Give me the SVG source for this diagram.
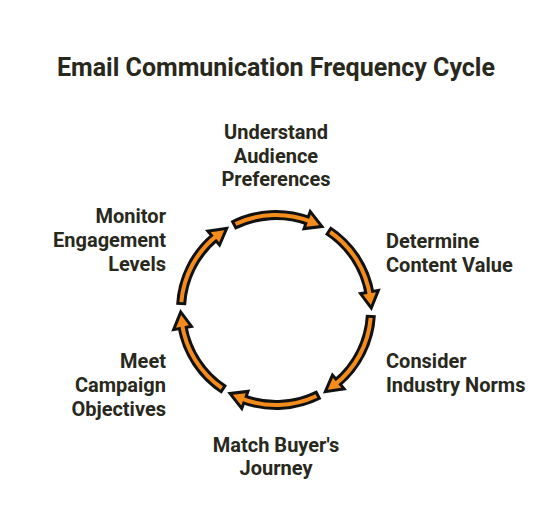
<svg xmlns="http://www.w3.org/2000/svg" xmlns:xlink="http://www.w3.org/1999/xlink" width="552" height="528" viewBox="0 0 552 528">
<style>
.t{font-family:Roboto,"Liberation Sans",sans-serif;font-weight:700;fill:#28281c}
.title{font-size:25px}
.lbl{font-size:20px}
.ob{fill:none;stroke:#111;stroke-width:10}
.oo{fill:none;stroke:#F48C1C;stroke-width:4}
.hb{fill:#111;stroke:#111;stroke-width:6;stroke-linejoin:miter}
.ho{fill:#F48C1C}
</style>
<defs>
<g id="arr">
<path class="ob" d="M -43.13 -84.65 A 95 95 0 0 1 32.49 -89.27"/>
<polygon class="hb" points="34.71,-95.38 43.13,-84.65 30.27,-83.16"/>
<path class="oo" d="M -40.45 -85.96 A 95 95 0 0 1 35.59 -88.08"/>
<polygon class="ho" points="34.71,-95.38 43.13,-84.65 30.27,-83.16"/>
</g>
</defs>
<rect width="552" height="528" fill="#fff"/>
<text class="t title" x="276" y="76" text-anchor="middle">Email Communication Frequency Cycle</text>
<g id="connectors">
<use xlink:href="#arr" transform="translate(276,310) rotate(0)"/>
<use xlink:href="#arr" transform="translate(276,310) rotate(60)"/>
<use xlink:href="#arr" transform="translate(276,310) rotate(120)"/>
<use xlink:href="#arr" transform="translate(276,310) rotate(180)"/>
<use xlink:href="#arr" transform="translate(276,310) rotate(240)"/>
<use xlink:href="#arr" transform="translate(276,310) rotate(300)"/>
</g>
<g id="node-understand">
<text class="t lbl" text-anchor="middle"><tspan x="276" y="139">Understand</tspan><tspan x="276" y="162.5">Audience</tspan><tspan x="276" y="186">Preferences</tspan></text>
</g>
<g id="node-determine">
<text class="t lbl"><tspan x="386" y="247.5">Determine</tspan><tspan x="386" y="271.5">Content Value</tspan></text>
</g>
<g id="node-consider">
<text class="t lbl"><tspan x="386" y="367.5">Consider</tspan><tspan x="386" y="391.5">Industry Norms</tspan></text>
</g>
<g id="node-match">
<text class="t lbl" text-anchor="middle"><tspan x="276" y="451.5">Match Buyer's</tspan><tspan x="276" y="475">Journey</tspan></text>
</g>
<g id="node-meet">
<text class="t lbl" text-anchor="end"><tspan x="166" y="368">Meet</tspan><tspan x="166" y="392">Campaign</tspan><tspan x="166" y="416">Objectives</tspan></text>
</g>
<g id="node-monitor">
<text class="t lbl" text-anchor="end"><tspan x="166" y="223">Monitor</tspan><tspan x="166" y="247">Engagement</tspan><tspan x="166" y="271">Levels</tspan></text>
</g>
</svg>
